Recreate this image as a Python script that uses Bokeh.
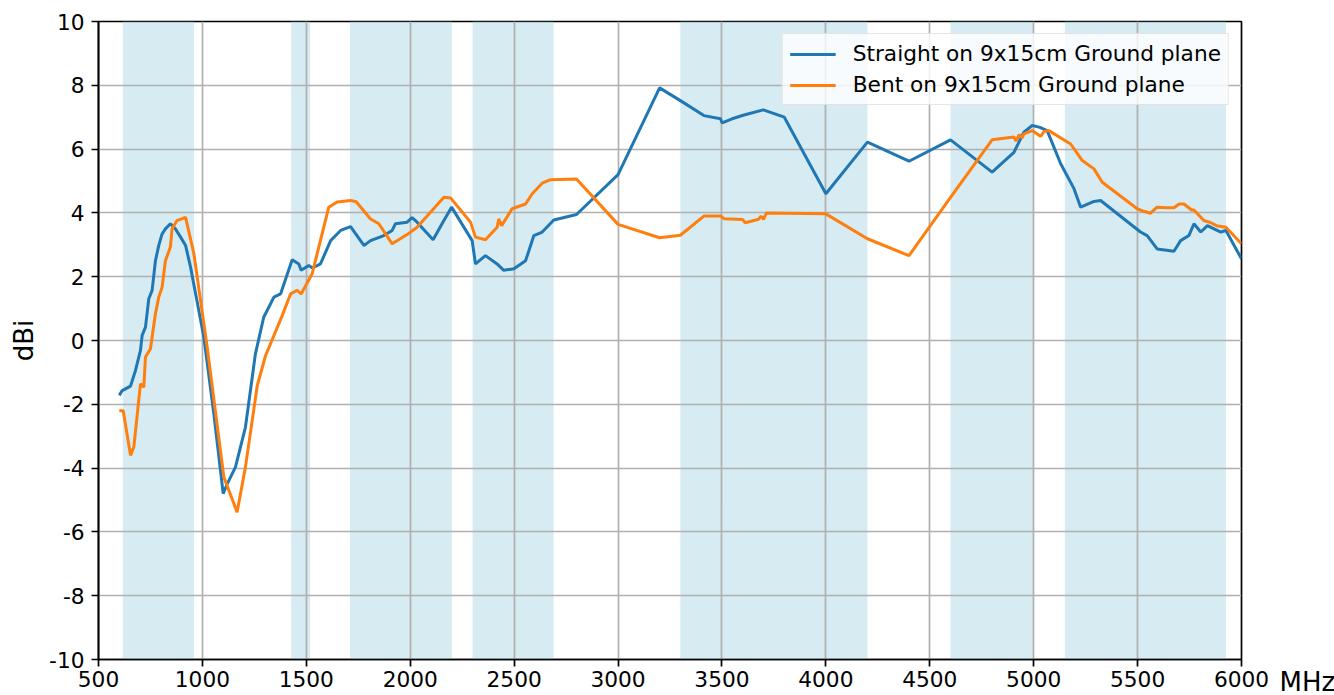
from bokeh.plotting import figure
from bokeh.models import BoxAnnotation, Range1d, Label
from bokeh.embed import file_html
from bokeh.resources import INLINE

# ---------------- data ----------------
band_start = [617, 1427, 1710, 2300, 3300, 4600, 5150]
band_end = [960, 1518, 2200, 2690, 4200, 5000, 5925]

x_ticks = [500, 1000, 1500, 2000, 2500, 3000, 3500, 4000, 4500, 5000, 5500, 6000]
y_ticks = [-10, -8, -6, -4, -2, 0, 2, 4, 6, 8, 10]
y_tick_labels = ["-10", "-8", "-6", "-4", "-2", "0", "2", "4", "6", "8", "10"]

straight_f = [600, 614, 654, 678, 702, 710, 726, 742, 758, 774,
              790, 806, 822, 846, 870, 895, 919, 943, 1007, 1055,
              1100, 1119, 1159, 1207, 1255, 1295, 1344, 1376, 1432, 1464,
              1475, 1512, 1528, 1552, 1568, 1617, 1665, 1713, 1777, 1809,
              1873, 1913, 1929, 1985, 2009, 2033, 2110, 2162, 2199, 2298,
              2314, 2362, 2418, 2450, 2499, 2555, 2595, 2635, 2691, 2800,
              3000, 3200, 3300, 3413, 3493, 3501, 3549, 3606, 3699, 3800,
              4000, 4200, 4400, 4600, 4800, 4905, 4953, 4993, 5030, 5065,
              5130, 5194, 5226, 5290, 5322, 5514, 5546, 5594, 5675, 5707,
              5747, 5771, 5804, 5836, 5900, 5925, 6000]
straight_dbi = [-1.72, -1.57, -1.43, -0.94, -0.31, 0.16, 0.42, 1.31, 1.57, 2.5,
                2.98, 3.34, 3.5, 3.66, 3.5, 3.24, 2.98, 2.3, 0.1, -2.3,
                -4.8, -4.5, -3.97, -2.72, -0.42, 0.73, 1.36, 1.46, 2.53, 2.4,
                2.2, 2.35, 2.28, 2.35, 2.4, 3.13, 3.45, 3.57, 2.98, 3.13,
                3.29, 3.45, 3.66, 3.71, 3.85, 3.71, 3.16, 3.76, 4.18, 3.13,
                2.4, 2.66, 2.4, 2.2, 2.25, 2.5, 3.29, 3.4, 3.78, 3.95,
                5.2, 7.92, 7.52, 7.05, 6.95, 6.82, 6.95, 7.07, 7.23, 7.0,
                4.6, 6.22, 5.62, 6.29, 5.28, 5.9, 6.53, 6.74, 6.68, 6.58,
                5.54, 4.76, 4.18, 4.36, 4.39, 3.4, 3.29, 2.87, 2.8, 3.13,
                3.29, 3.66, 3.4, 3.6, 3.4, 3.45, 2.56]

bent_f = [600, 619, 654, 670, 702, 718, 726, 750, 774, 790,
          806, 822, 846, 854, 878, 919, 959, 1023, 1103, 1167,
          1207, 1264, 1304, 1384, 1424, 1456, 1475, 1528, 1608, 1648,
          1713, 1740, 1809, 1849, 1913, 1985, 2033, 2106, 2162, 2194,
          2290, 2314, 2362, 2418, 2426, 2440, 2490, 2555, 2587, 2635,
          2675, 2800, 3000, 3200, 3300, 3413, 3493, 3510, 3600, 3612,
          3676, 3688, 3700, 3714, 4000, 4200, 4400, 4600, 4800, 4905,
          4915, 4930, 4945, 4953, 4993, 5033, 5050, 5073, 5178, 5234,
          5290, 5330, 5498, 5530, 5562, 5594, 5640, 5675, 5700, 5723,
          5760, 5771, 5819, 5850, 5880, 5925, 6000]
bent_dbi = [-2.2, -2.2, -3.6, -3.34, -1.36, -1.46, -0.52, -0.26, 0.84, 1.36,
            1.67, 2.5, 2.93, 3.5, 3.76, 3.86, 2.72, -0.21, -4.28, -5.38,
            -3.97, -1.41, -0.47, 0.78, 1.46, 1.57, 1.46, 2.09, 4.18, 4.34,
            4.39, 4.35, 3.81, 3.66, 3.03, 3.32, 3.55, 4.08, 4.49, 4.47,
            3.71, 3.24, 3.16, 3.55, 3.81, 3.6, 4.13, 4.28, 4.6, 4.93,
            5.04, 5.06, 3.64, 3.22, 3.3, 3.9, 3.9, 3.82, 3.79, 3.69,
            3.8, 3.9, 3.8, 4.0, 3.97, 3.19, 2.66, 4.49, 6.29, 6.38,
            6.25, 6.45, 6.35, 6.48, 6.58, 6.4, 6.55, 6.58, 6.16, 5.64,
            5.38, 4.96, 4.13, 4.05, 3.99, 4.18, 4.16, 4.16, 4.28, 4.28,
            4.09, 4.09, 3.76, 3.7, 3.6, 3.55, 3.03]

series_labels = ["Straight on 9x15cm Ground plane", "Bent on 9x15cm Ground plane"]
series_colors = ["#1f77b4", "#ff7f0e"]
x_unit_label = "MHz"
y_unit_label = "dBi"

FONT = "DejaVu Sans"
TICK_FS = "21.7px"
LABEL_FS = "26px"

# ---------------- figure ----------------
p = figure(width=1334, height=695, output_backend="svg", toolbar_location=None,
           x_range=Range1d(500, 6000), y_range=Range1d(-10, 10),
           min_border_left=98, min_border_right=93, min_border_top=21, min_border_bottom=36)

p.background_fill_color = "white"
p.border_fill_color = "white"
p.outline_line_color = "black"
p.outline_line_width = 1.7

for s, e in zip(band_start, band_end):
    p.add_layout(BoxAnnotation(left=s, right=e, fill_color="lightblue", fill_alpha=0.5,
                               line_alpha=0, level="image"))

p.line(straight_f, straight_dbi, line_color=series_colors[0], line_width=3,
       legend_label=series_labels[0])
p.line(bent_f, bent_dbi, line_color=series_colors[1], line_width=3,
       legend_label=series_labels[1])

p.xaxis.ticker = x_ticks
p.yaxis.ticker = y_ticks
p.yaxis.major_label_overrides = dict(zip(y_ticks, y_tick_labels))

for ax in (p.xaxis[0], p.yaxis[0]):
    ax.axis_line_color = "black"
    ax.axis_line_width = 1.7
    ax.major_tick_line_color = "black"
    ax.major_tick_line_width = 1.7
    ax.major_tick_out = 7
    ax.major_tick_in = 0
    ax.minor_tick_line_color = None
    ax.major_label_text_font = FONT
    ax.major_label_text_font_size = TICK_FS
    ax.major_label_text_color = "black"

p.xaxis.major_label_standoff = 4
p.yaxis.major_label_standoff = 7
p.yaxis.axis_label = y_unit_label
p.yaxis.axis_label_text_font = FONT
p.yaxis.axis_label_text_font_size = LABEL_FS
p.yaxis.axis_label_text_font_style = "normal"
p.yaxis.axis_label_text_color = "black"
p.yaxis.axis_label_standoff = 7

# x-axis unit, to the right of the last tick label (kept in a side panel so it is not clipped)
p.add_layout(Label(x=6000, y=-10, x_offset=38, y_offset=-22, text=x_unit_label,
                   text_font=FONT, text_font_size=LABEL_FS, text_color="black",
                   text_align="left", text_baseline="middle"), "right")

p.grid.grid_line_color = "#b0b0b0"
p.grid.grid_line_width = 1.7

lg = p.legend[0]
lg.location = "top_right"
lg.margin = 12
lg.padding = 7
lg.spacing = 6
lg.glyph_width = 46
lg.glyph_height = 24
lg.label_standoff = 17
lg.label_text_font = FONT
lg.label_text_font_size = TICK_FS
lg.label_text_color = "black"
lg.border_line_color = "#cccccc"
lg.border_line_width = 1.5
lg.background_fill_color = "white"
lg.background_fill_alpha = 0.8

open("out.html", "w").write(file_html(p, INLINE))
